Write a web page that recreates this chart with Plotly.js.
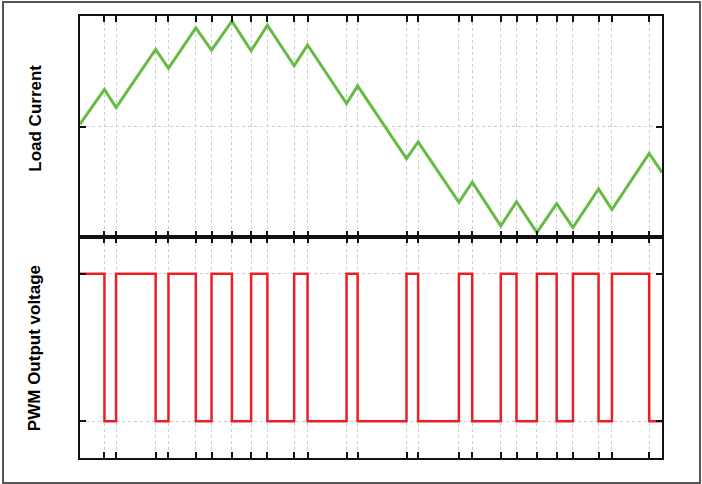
<!DOCTYPE html>
<html>
<head>
<meta charset="utf-8">
<script src="https://cdn.plot.ly/plotly-3.0.1.min.js"></script>
<style>
  html, body { margin: 0; padding: 0; background: #fff; }
  #wrap { position: relative; width: 702px; height: 484px; }
  #chart { width: 702px; height: 484px; }
  #frame { position: absolute; left: 2px; top: 1px; width: 695px; height: 479px;
           border: 2px solid #555; pointer-events: none; box-sizing: content-box; }
</style>
</head>
<body>
<div id="wrap">
  <div id="chart"></div>
  <div id="frame"></div>
</div>
<script>
// switching instants (arbitrary time units, 0..100)
const times = [0, 4.2, 6.2, 13.0, 15.2, 19.9, 22.6, 26.1, 29.4, 32.2, 36.8, 39.1, 45.8,
               47.7, 56.1, 58.1, 65.1, 67.4, 72.3, 75.0, 78.5, 81.9, 84.7, 89.1, 91.4, 97.8, 100];
// load current at each instant (arbitrary units)
const loadCurrent = [5.11, 6.68, 5.86, 8.49, 7.63, 9.46, 8.46, 9.77, 8.43, 9.58, 7.75, 8.69, 6.04,
                     6.84, 3.55, 4.30, 1.57, 2.48, 0.50, 1.60, 0.20, 1.51, 0.43, 2.17, 1.24, 3.78, 2.92];
// PWM state starting at each instant (1 = high, 0 = low)
const pwmState = [1, 0, 1, 0, 1, 0, 1, 0, 1, 0, 1, 0, 1,
                  0, 1, 0, 1, 0, 1, 0, 1, 0, 1, 0, 1, 0, 0];
// tick positions on the time axis
const timeTicks = [4.2, 6.2, 13.0, 15.2, 19.9, 22.6, 26.1, 29.4, 32.2, 36.8, 39.1, 45.8,
                   47.7, 56.1, 58.1, 65.1, 67.4, 72.3, 75.0, 78.5, 81.9, 84.7, 89.1, 91.4, 97.8, 100];
const currentTicks = [5];
const pwmTicks = [0, 1];
const axisTitles = ['Load Current', 'PWM Output voltage'];

const traces = [
  { x: times, y: loadCurrent, xaxis: 'x2', yaxis: 'y2', mode: 'lines',
    line: { color: '#66bb44', width: 3 }, hoverinfo: 'skip' },
  { x: times, y: pwmState, xaxis: 'x', yaxis: 'y', mode: 'lines',
    line: { color: '#ee1c25', width: 2.5, shape: 'hv' }, hoverinfo: 'skip' }
];

const xCommon = {
  range: [0, 100], tickvals: timeTicks, showticklabels: false,
  ticks: 'inside', ticklen: 6, tickwidth: 2, tickcolor: '#111',
  showline: true, linecolor: '#111', linewidth: 2, mirror: 'ticks',
  showgrid: true, gridcolor: '#cccccc', gridwidth: 1, griddash: 'dot', zeroline: false
};
const yCommon = {
  showticklabels: false, ticks: 'inside', ticklen: 6, tickwidth: 2, tickcolor: '#111',
  showline: true, linecolor: '#111', linewidth: 2, mirror: 'ticks',
  showgrid: true, gridcolor: '#cccccc', gridwidth: 1, griddash: 'dot', zeroline: false
};
const titleFont = { family: 'Liberation Sans, Arial, sans-serif', size: 17, color: '#000', weight: 'bold' };

const layout = {
  width: 702, height: 484,
  margin: { l: 80, r: 40, t: 16, b: 26 },
  showlegend: false,
  paper_bgcolor: '#fff', plot_bgcolor: '#fff',
  xaxis: Object.assign({}, xCommon, { anchor: 'y', domain: [0, 1] }),
  xaxis2: Object.assign({}, xCommon, { anchor: 'y2', domain: [0, 1] }),
  yaxis: Object.assign({}, yCommon, { domain: [0, 0.5], range: [-0.25, 1.25], tickvals: pwmTicks, anchor: 'x' }),
  yaxis2: Object.assign({}, yCommon, { domain: [0.5, 1], range: [0, 10], tickvals: currentTicks, anchor: 'x2' }),
  annotations: [
    { text: '<b>' + axisTitles[0] + '</b>', xref: 'paper', yref: 'paper', x: -0.077, y: 0.768,
      xanchor: 'center', yanchor: 'middle', textangle: -90, showarrow: false, font: titleFont },
    { text: '<b>' + axisTitles[1] + '</b>', xref: 'paper', yref: 'paper', x: -0.077, y: 0.249,
      xanchor: 'center', yanchor: 'middle', textangle: -90, showarrow: false, font: titleFont }
  ]
};

Plotly.newPlot('chart', traces, layout, { staticPlot: true, displayModeBar: false });
</script>
</body>
</html>
